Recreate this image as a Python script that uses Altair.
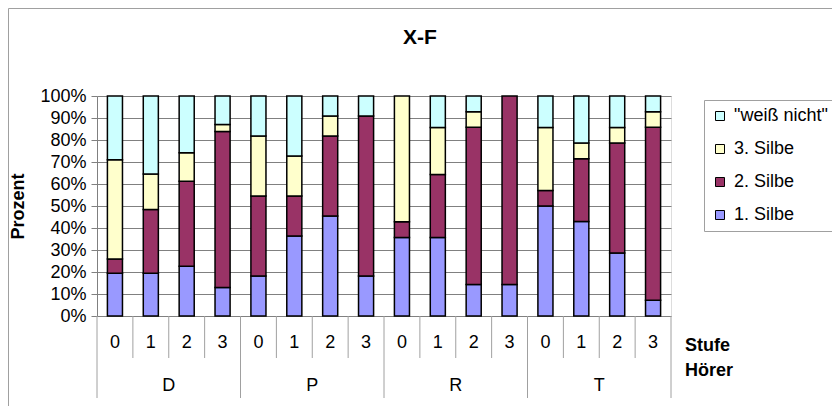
import altair as alt
import pandas as pd

groups = ["D", "P", "R", "T"]
stufen = ["0", "1", "2", "3"]
categories = ["1. Silbe", "2. Silbe", "3. Silbe", "\"weiß nicht\""]
silbe1 = [19.4, 19.4, 22.6, 12.9, 18.2, 36.4, 45.5, 18.2, 35.7, 35.7, 14.3, 14.3, 50.0, 42.9, 28.6, 7.1]
silbe2 = [6.5, 29.0, 38.7, 71.0, 36.4, 18.2, 36.4, 72.7, 7.1, 28.6, 71.4, 85.7, 7.1, 28.6, 50.0, 78.6]
silbe3 = [45.2, 16.1, 12.9, 3.2, 27.3, 18.2, 9.1, 0.0, 57.1, 21.4, 7.1, 0.0, 28.6, 7.1, 7.1, 7.1]
weiss = [29.0, 35.5, 25.8, 12.9, 18.2, 27.3, 9.1, 9.1, 0.0, 14.3, 7.1, 0.0, 14.3, 21.4, 14.3, 7.1]
colors = ["#9999FF", "#993366", "#FFFFCC", "#CCFFFF"]

series = [silbe1, silbe2, silbe3, weiss]
rows = []
for g_i, g in enumerate(groups):
    for s_i, s in enumerate(stufen):
        i = g_i * 4 + s_i
        for k, cat in enumerate(categories):
            rows.append(dict(idx=i, x0=i + 0.29, x1=i + 0.71, cat=cat, order=k,
                             value=series[k][i]))
df = pd.DataFrame(rows)

W, H = 574, 220
FONT = "Liberation Sans"
FS = 18
xs = alt.Scale(domain=[0, 16], nice=False, zero=False)

bars = (
    alt.Chart(df)
    .transform_stack(stack="value", groupby=["idx"], as_=["y0", "y1"],
                     sort=[alt.SortField("order", order="ascending")], offset="normalize")
    .transform_filter("datum.value > 0")
    .mark_bar(stroke="black", strokeWidth=1.5)
    .encode(
        x=alt.X("x0:Q", scale=xs, axis=None),
        x2="x1:Q",
        y=alt.Y("y0:Q", scale=alt.Scale(domain=[0, 1], nice=False),
                axis=alt.Axis(values=[i / 10 for i in range(11)], format=".0%",
                              labelFontSize=FS, labelFont=FONT, labelColor="black",
                              labelPadding=5, tickSize=6, tickColor="#808080",
                              domainColor="#808080", grid=True, gridColor="#808080",
                              title="Prozent", titleFont=FONT, titleFontSize=18,
                              titleFontWeight="bold", titleAngle=-90, titleX=-79,
                              titleY=110, titleAlign="center", titleBaseline="middle")),
        y2="y1:Q",
        color=alt.Color("cat:N",
                        scale=alt.Scale(domain=categories[::-1], range=colors[::-1]),
                        legend=alt.Legend(title=None, orient="none", legendX=607, legendY=4,
                                          padding=7, rowPadding=15, labelFontSize=FS,
                                          labelFont=FONT, labelColor="black",
                                          symbolType="square", symbolSize=81,
                                          symbolStrokeColor="black", symbolStrokeWidth=1,
                                          labelOffset=5, fillColor="white",
                                          strokeColor="#A0A0A0")),
        order=alt.Order("order:Q"),
    )
)

sep = pd.DataFrame({"pos": list(range(17))})
short_sep = (
    alt.Chart(sep).transform_filter("datum.pos % 4 != 0")
    .mark_rule(color="#A0A0A0", strokeWidth=1)
    .encode(x=alt.X("pos:Q", scale=xs, axis=None), y=alt.value(H), y2=alt.value(H + 42))
)
long_sep = (
    alt.Chart(sep).transform_filter("datum.pos % 4 == 0")
    .mark_rule(color="#A0A0A0", strokeWidth=1)
    .encode(x=alt.X("pos:Q", scale=xs, axis=None), y=alt.value(H), y2=alt.value(H + 82))
)

lab_df = pd.DataFrame([{"mid": g_i * 4 + s_i + 0.5, "stufe": s}
                       for g_i in range(len(groups)) for s_i, s in enumerate(stufen)])
stufe_txt = (
    alt.Chart(lab_df).mark_text(font=FONT, fontSize=FS, color="black", baseline="middle")
    .encode(x=alt.X("mid:Q", scale=xs, axis=None), y=alt.value(H + 27), text="stufe:N")
)
grp_df = pd.DataFrame({"mid": [g_i * 4 + 2 for g_i in range(len(groups))], "grp": groups})
grp_txt = (
    alt.Chart(grp_df).mark_text(font=FONT, fontSize=FS, color="black", baseline="middle")
    .encode(x=alt.X("mid:Q", scale=xs, axis=None), y=alt.value(H + 70), text="grp:N")
)

one = pd.DataFrame({"t": ["X-F"], "a": ["Stufe"], "b": ["Hörer"]})
title_txt = (
    alt.Chart(one).mark_text(font=FONT, fontSize=21, fontWeight="bold", color="black",
                             baseline="middle", align="center")
    .encode(x=alt.value(323), y=alt.value(-58), text="t:N")
)
stufe_title = (
    alt.Chart(one).mark_text(font=FONT, fontSize=18, fontWeight="bold", color="black",
                             baseline="middle", align="left")
    .encode(x=alt.value(588), y=alt.value(H + 30), text="a:N")
)
hoerer_title = (
    alt.Chart(one).mark_text(font=FONT, fontSize=18, fontWeight="bold", color="black",
                             baseline="middle", align="left")
    .encode(x=alt.value(588), y=alt.value(H + 55), text="b:N")
)
frame_top = (
    alt.Chart(one).mark_rule(color="#A0A0A0", strokeWidth=1)
    .encode(x=alt.value(-88.5), x2=alt.value(760), y=alt.value(-87.5))
)
frame_left = (
    alt.Chart(one).mark_rule(color="#A0A0A0", strokeWidth=1)
    .encode(x=alt.value(-88.5), y=alt.value(-87.5), y2=alt.value(330))
)

chart = (
    alt.layer(frame_top, frame_left, bars, short_sep, long_sep, stufe_txt, grp_txt,
              title_txt, stufe_title, hoerer_title)
    .properties(width=W, height=H,
                autosize=alt.AutoSizeParams(type="none"),
                padding={"left": 89, "top": 88, "right": 161, "bottom": 90})
    .configure_view(fill="#C0C0C0", stroke="#808080")
    .configure(background="white")
)

chart.save("out.html", embed_options={"renderer": "svg", "actions": False})
